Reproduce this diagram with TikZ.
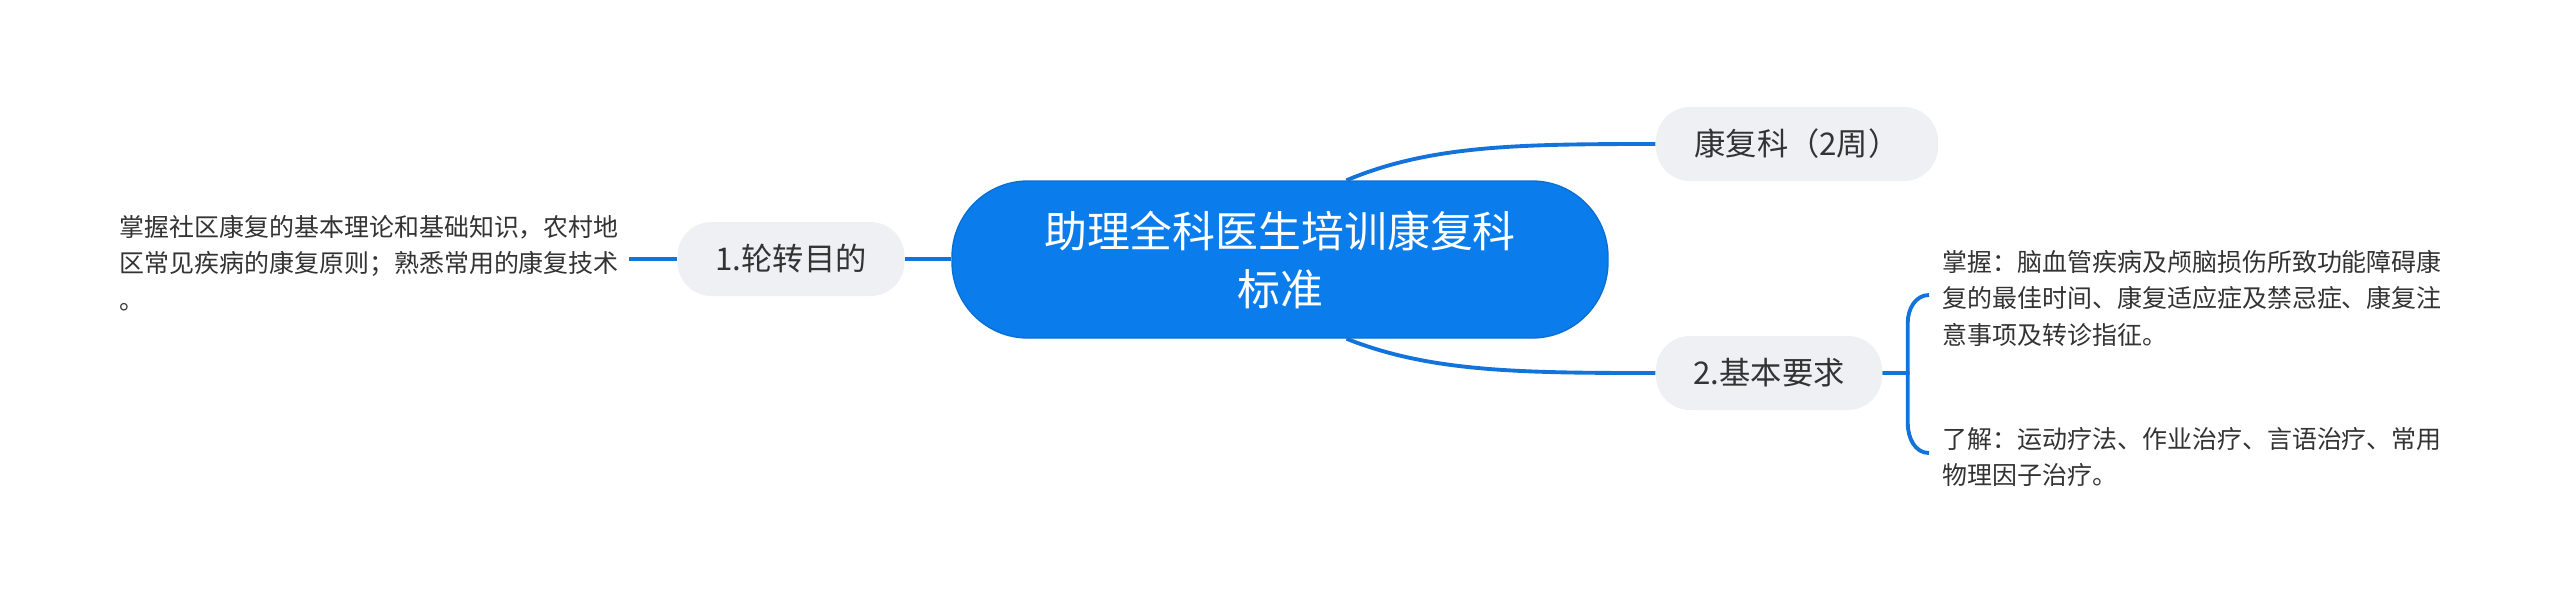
\documentclass[tikz,border=0pt]{standalone}
\usepackage{fontspec}
\usepackage{xcolor}
\usepackage{tikz}
\usetikzlibrary{calc}
\setmainfont{Noto Sans CJK SC}
\definecolor{rootblue}{HTML}{0A7CEB}
\definecolor{linkblue}{HTML}{1273DB}
\definecolor{topicgray}{HTML}{EEF0F3}
\definecolor{textgray}{HTML}{333333}

\tikzset{
  root/.style={fill=rootblue, draw=rootblue!90!black, line width=0.4pt, rounded corners=0.76cm,
    minimum width=6.56cm, minimum height=1.57cm, text=white, align=center,
    font=\fontsize{12.2}{16.5}\selectfont},
  topic/.style={fill=topicgray, rounded corners=0.34cm, minimum height=0.74cm,
    text=textgray, font=\fontsize{8.9}{11}\selectfont},
  leaf/.style={anchor=west, inner sep=0pt, align=left, text=textgray,
    font=\fontsize{7.1}{10.4}\selectfont},
  link/.style={draw=linkblue, line width=1.1pt}
}

\begin{document}
\begin{tikzpicture}
  \useasboundingbox (0,0) rectangle (25.6,6.05);
  % main topic
  \node[root] (root) at (12.80,3.455) {助理全科医生培训康复科\\标准};
  % topics
  \node[topic, minimum width=2.82cm] (kfk) at (17.97,4.61) {康复科（2周）};
  \node[topic, minimum width=2.27cm] (mudi) at (7.91,3.46) {1.轮转目的};
  \node[topic, minimum width=2.26cm] (yaoqiu) at (17.69,2.32) {2.基本要求};
  % leaves
  \node[leaf] (mudiA) at (1.19,3.42) {掌握社区康复的基本理论和基础知识，农村地\\区常见疾病的康复原则；熟悉常用的康复技术\\。};
  \node[leaf] (yaoqiuA) at (19.42,3.07) {掌握：脑血管疾病及颅脑损伤所致功能障碍康\\复的最佳时间、康复适应症及禁忌症、康复注\\意事项及转诊指征。};
  \node[leaf] (yaoqiuB) at (19.42,1.48) {了解：运动疗法、作业治疗、言语治疗、常用\\物理因子治疗。};
  \coordinate (kA) at (19.29,3.10);
  \coordinate (kB) at (19.29,1.52);

  % connectors
  \draw[link] (root.50) .. controls (14.3,4.6) and (15.2,4.61) .. (kfk.west);
  \draw[link] (root.-50) .. controls (14.3,2.33) and (15.2,2.32) .. (yaoqiu.west);
  \draw[link] (mudi.east) -- (root.west |- mudi.east);
  \draw[link] (mudi.west) -- ($(mudiA.east |- mudi.west)+(0.1,0)$);
  \draw[link] (yaoqiu.east) -- ++(0.25,0) -- ++(0,0.5) to[out=90,in=180] (kA);
  \draw[link] (yaoqiu.east) -- ++(0.25,0) -- ++(0,-0.5) to[out=-90,in=180] (kB);
\end{tikzpicture}
\end{document}
